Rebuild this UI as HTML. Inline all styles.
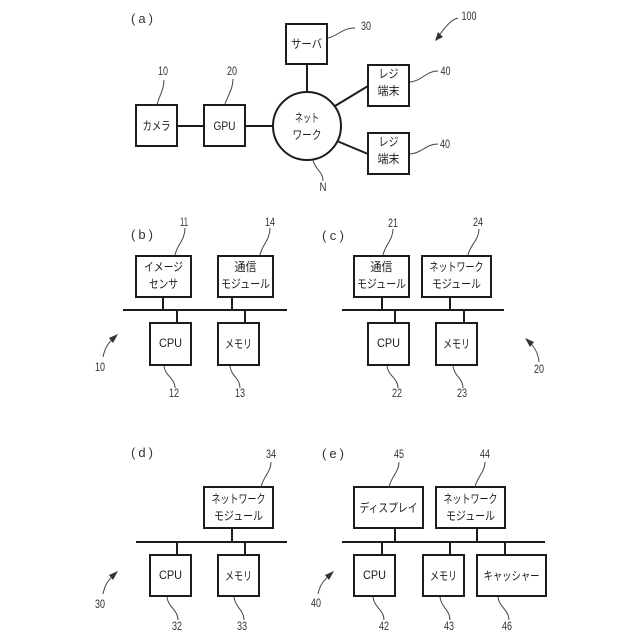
<!DOCTYPE html>
<html lang="ja"><head><meta charset="utf-8"><style>
html,body{margin:0;padding:0;background:#fff}
svg{display:block}
rect,circle{fill:#fff;stroke:#1c1c1c;stroke-width:2}
.c{stroke:#1c1c1c;stroke-width:2;fill:none}
.l{stroke:#444;stroke-width:1;fill:none}
.a{fill:#333}
text{font-family:"Liberation Sans","Noto Sans CJK JP",sans-serif;fill:#1c1c1c}
.t{font-size:12px;text-anchor:middle}
.n{font-size:12px;text-anchor:middle;fill:#333}
.p{font-size:13px;text-anchor:middle;fill:#333}
</style></head><body>
<svg width="640" height="640" viewBox="0 0 640 640" xmlns="http://www.w3.org/2000/svg">
<!-- a connectors -->
<path class="c" d="M177 126H204M245 126H273M307 64V92M335 106L368 86M337 141L368 154"/>
<rect x="136" y="105" width="41" height="41"/>
<rect x="204" y="105" width="41" height="41"/>
<rect x="286" y="24" width="41" height="40"/>
<rect x="368" y="65" width="41" height="41"/>
<rect x="368" y="133" width="41" height="41"/>
<circle cx="307" cy="126" r="34"/>
<text class="t" x="156.500" y="130" textLength="28" lengthAdjust="spacingAndGlyphs">カメラ</text>
<text class="t" x="224.500" y="130" textLength="22" lengthAdjust="spacingAndGlyphs">GPU</text>
<text class="t" x="306.500" y="48" textLength="31" lengthAdjust="spacingAndGlyphs">サーバ</text>
<text class="t" x="307" y="122" textLength="24" lengthAdjust="spacingAndGlyphs">ネット</text>
<text class="t" x="307" y="139" textLength="29" lengthAdjust="spacingAndGlyphs">ワーク</text>
<text class="t" x="388.500" y="78" textLength="20" lengthAdjust="spacingAndGlyphs">レジ</text>
<text class="t" x="388.500" y="95" textLength="22" lengthAdjust="spacingAndGlyphs">端末</text>
<text class="t" x="388.500" y="146" textLength="20" lengthAdjust="spacingAndGlyphs">レジ</text>
<text class="t" x="388.500" y="163" textLength="22" lengthAdjust="spacingAndGlyphs">端末</text>
<text class="p" x="142" y="23" textLength="22" lengthAdjust="spacing">( a )</text>
<text class="n" x="163" y="75" textLength="10" lengthAdjust="spacingAndGlyphs">10</text>
<text class="n" x="232" y="75" textLength="10" lengthAdjust="spacingAndGlyphs">20</text>
<text class="n" x="366" y="30" textLength="10" lengthAdjust="spacingAndGlyphs">30</text>
<text class="n" x="469" y="20" textLength="15" lengthAdjust="spacingAndGlyphs">100</text>
<text class="n" x="445.500" y="75" textLength="10" lengthAdjust="spacingAndGlyphs">40</text>
<text class="n" x="445" y="148" textLength="10" lengthAdjust="spacingAndGlyphs">40</text>
<text class="n" x="323" y="191" textLength="7" lengthAdjust="spacingAndGlyphs">N</text>
<path class="l" d="M157 105C159 96 164 90 164 80M225 104C228 95 233 89 233 79M328 38C338 36 342 28 355 28M410 82C422 81 426 71 438 71M410 154C422 153 426 144 438 144M313 160C315 170 323 171 323 181"/>
<path class="l" d="M458 18C450 20 445 28 437 38"/>
<path class="a" d="M435 41L438 32L443 37Z"/>

<!-- b -->
<path class="c" d="M123 310H287M163 297V310M232 297V310M177 310V323M245 310V323"/>
<rect x="136" y="256" width="55" height="41"/>
<rect x="218" y="256" width="55" height="41"/>
<rect x="150" y="323" width="41" height="42"/>
<rect x="218" y="323" width="41" height="42"/>
<text class="t" x="163.500" y="271" textLength="39" lengthAdjust="spacingAndGlyphs">イメージ</text>
<text class="t" x="163.500" y="288" textLength="29" lengthAdjust="spacingAndGlyphs">センサ</text>
<text class="t" x="245.500" y="271" textLength="22" lengthAdjust="spacingAndGlyphs">通信</text>
<text class="t" x="245.500" y="288" textLength="49" lengthAdjust="spacingAndGlyphs">モジュール</text>
<text class="t" x="170.500" y="347" textLength="23" lengthAdjust="spacingAndGlyphs">CPU</text>
<text class="t" x="238.500" y="348" textLength="27" lengthAdjust="spacingAndGlyphs">メモリ</text>
<text class="p" x="142" y="239" textLength="22" lengthAdjust="spacing">( b )</text>
<text class="n" x="184" y="226" textLength="8" lengthAdjust="spacingAndGlyphs">11</text>
<text class="n" x="270" y="226" textLength="10" lengthAdjust="spacingAndGlyphs">14</text>
<text class="n" x="100" y="371" textLength="10" lengthAdjust="spacingAndGlyphs">10</text>
<text class="n" x="174" y="397" textLength="10" lengthAdjust="spacingAndGlyphs">12</text>
<text class="n" x="240" y="397" textLength="10" lengthAdjust="spacingAndGlyphs">13</text>
<path class="l" d="M175 255C177 245 185 240 185 228M260 255C262 245 270 240 270 228M164 366C165 376 175 378 175 388M230 366C231 376 240 378 240 388"/>
<path class="l" d="M103 357C105 347 109 342 115 337"/>
<path class="a" d="M118 334L109 338L113 343Z"/>

<!-- c -->
<path class="c" d="M342 310H504M382 297V310M450 297V310M395 310V323M464 310V323"/>
<rect x="354" y="256" width="55" height="41"/>
<rect x="422" y="256" width="69" height="41"/>
<rect x="368" y="323" width="41" height="42"/>
<rect x="436" y="323" width="41" height="42"/>
<text class="t" x="381.500" y="271" textLength="22" lengthAdjust="spacingAndGlyphs">通信</text>
<text class="t" x="381.500" y="288" textLength="49" lengthAdjust="spacingAndGlyphs">モジュール</text>
<text class="t" x="456.500" y="271" textLength="54" lengthAdjust="spacingAndGlyphs">ネットワーク</text>
<text class="t" x="456.500" y="288" textLength="49" lengthAdjust="spacingAndGlyphs">モジュール</text>
<text class="t" x="388.500" y="347" textLength="23" lengthAdjust="spacingAndGlyphs">CPU</text>
<text class="t" x="456.500" y="348" textLength="27" lengthAdjust="spacingAndGlyphs">メモリ</text>
<text class="p" x="333" y="240" textLength="22" lengthAdjust="spacing">( c )</text>
<text class="n" x="393" y="227" textLength="10" lengthAdjust="spacingAndGlyphs">21</text>
<text class="n" x="478" y="226" textLength="10" lengthAdjust="spacingAndGlyphs">24</text>
<text class="n" x="539" y="373" textLength="10" lengthAdjust="spacingAndGlyphs">20</text>
<text class="n" x="397" y="397" textLength="10" lengthAdjust="spacingAndGlyphs">22</text>
<text class="n" x="462" y="397" textLength="10" lengthAdjust="spacingAndGlyphs">23</text>
<path class="l" d="M383 255C385 245 393 240 393 229M468 255C470 245 479 240 479 229M387 366C388 376 398 378 398 388M453 366C454 376 463 378 463 388"/>
<path class="l" d="M539 362C538 352 534 346 528 341"/>
<path class="a" d="M525 338L534 342L530 347Z"/>

<!-- d -->
<path class="c" d="M136 542H287M232 528V542M177 542V555M245 542V555"/>
<rect x="204" y="487" width="69" height="41"/>
<rect x="150" y="555" width="41" height="41"/>
<rect x="218" y="555" width="41" height="41"/>
<text class="t" x="238.500" y="503" textLength="54" lengthAdjust="spacingAndGlyphs">ネットワーク</text>
<text class="t" x="238.500" y="520" textLength="49" lengthAdjust="spacingAndGlyphs">モジュール</text>
<text class="t" x="170.500" y="579" textLength="23" lengthAdjust="spacingAndGlyphs">CPU</text>
<text class="t" x="238.500" y="580" textLength="27" lengthAdjust="spacingAndGlyphs">メモリ</text>
<text class="p" x="142" y="457" textLength="22" lengthAdjust="spacing">( d )</text>
<text class="n" x="271" y="458" textLength="10" lengthAdjust="spacingAndGlyphs">34</text>
<text class="n" x="100" y="608" textLength="10" lengthAdjust="spacingAndGlyphs">30</text>
<text class="n" x="177" y="630" textLength="10" lengthAdjust="spacingAndGlyphs">32</text>
<text class="n" x="242" y="630" textLength="10" lengthAdjust="spacingAndGlyphs">33</text>
<path class="l" d="M261 487C263 477 271 472 271 462M167 597C168 607 178 610 178 620M234 597C235 607 244 610 244 620"/>
<path class="l" d="M103 594C105 584 109 579 115 574"/>
<path class="a" d="M118 571L109 575L113 580Z"/>

<!-- e -->
<path class="c" d="M342 542H545M395 528V542M477 528V542M382 542V555M450 542V555M505 542V555"/>
<rect x="354" y="487" width="69" height="41"/>
<rect x="436" y="487" width="69" height="41"/>
<rect x="354" y="555" width="41" height="41"/>
<rect x="423" y="555" width="41" height="41"/>
<rect x="477" y="555" width="69" height="41"/>
<text class="t" x="388.500" y="512" textLength="58" lengthAdjust="spacingAndGlyphs">ディスプレイ</text>
<text class="t" x="470.500" y="503" textLength="54" lengthAdjust="spacingAndGlyphs">ネットワーク</text>
<text class="t" x="470.500" y="520" textLength="49" lengthAdjust="spacingAndGlyphs">モジュール</text>
<text class="t" x="374.500" y="579" textLength="23" lengthAdjust="spacingAndGlyphs">CPU</text>
<text class="t" x="443.500" y="580" textLength="27" lengthAdjust="spacingAndGlyphs">メモリ</text>
<text class="t" x="511.500" y="580" textLength="56" lengthAdjust="spacingAndGlyphs">キャッシャー</text>
<text class="p" x="333" y="458" textLength="22" lengthAdjust="spacing">( e )</text>
<text class="n" x="399" y="458" textLength="10" lengthAdjust="spacingAndGlyphs">45</text>
<text class="n" x="485" y="458" textLength="10" lengthAdjust="spacingAndGlyphs">44</text>
<text class="n" x="316" y="607" textLength="10" lengthAdjust="spacingAndGlyphs">40</text>
<text class="n" x="384" y="630" textLength="10" lengthAdjust="spacingAndGlyphs">42</text>
<text class="n" x="449" y="630" textLength="10" lengthAdjust="spacingAndGlyphs">43</text>
<text class="n" x="507" y="630" textLength="10" lengthAdjust="spacingAndGlyphs">46</text>
<path class="l" d="M389 487C391 477 399 472 399 462M475 487C477 477 485 472 485 462M373 597C374 607 384 610 384 620M440 597C441 607 450 610 450 620M498 597C499 607 509 610 509 620"/>
<path class="l" d="M318 594C320 584 325 579 331 574"/>
<path class="a" d="M334 571L325 575L329 580Z"/>
</svg>
</body></html>
